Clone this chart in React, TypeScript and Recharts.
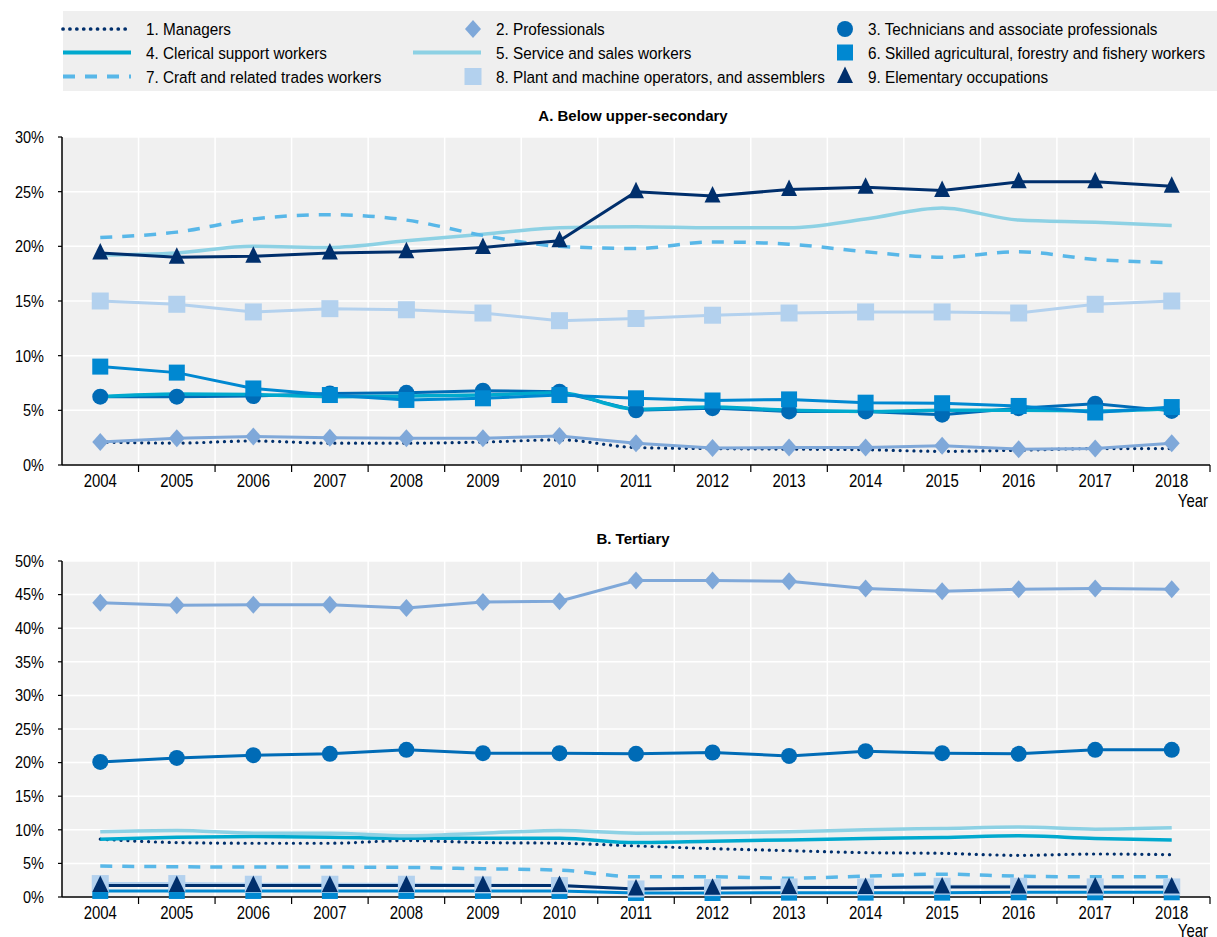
import React from 'react';
import { LineChart, Line, XAxis, YAxis, CartesianGrid } from 'recharts';

const YEARS = ['2004','2005','2006','2007','2008','2009','2010','2011','2012','2013','2014','2015','2016','2017','2018'];
const SERIES_NAMES = [
  '1. Managers',
  '2. Professionals',
  '3. Technicians and associate professionals',
  '4. Clerical support workers',
  '5. Service and sales workers',
  '6. Skilled agricultural, forestry and fishery workers',
  '7. Craft and related trades workers',
  '8. Plant and machine operators, and assemblers',
  '9. Elementary occupations',
];
const TICKS_A = [0, 5, 10, 15, 20, 25, 30];
const TICKS_B = [0, 5, 10, 15, 20, 25, 30, 35, 40, 45, 50];
const TITLE_A = 'A. Below upper-secondary';
const TITLE_B = 'B. Tertiary';
const X_LABEL = 'Year';

// Panel A: Below upper-secondary
const A_MANAGERS = [2.1, 2.0, 2.2, 2.0, 2.0, 2.1, 2.3, 1.6, 1.5, 1.45, 1.4, 1.25, 1.35, 1.5, 1.5];
const A_PROFESSIONALS = [2.1, 2.45, 2.6, 2.5, 2.45, 2.45, 2.65, 2.0, 1.55, 1.6, 1.6, 1.75, 1.45, 1.5, 2.0];
const A_TECHNICIANS = [6.25, 6.25, 6.3, 6.55, 6.6, 6.8, 6.7, 5.0, 5.2, 4.9, 4.9, 4.6, 5.2, 5.6, 4.95];
const A_CLERICAL = [6.25, 6.5, 6.45, 6.25, 6.3, 6.4, 6.6, 5.1, 5.3, 5.0, 4.9, 5.0, 5.0, 4.95, 5.15];
const A_SERVICE = [19.2, 19.4, 20.0, 19.9, 20.5, 21.1, 21.7, 21.8, 21.7, 21.7, 22.5, 23.5, 22.4, 22.2, 21.9];
const A_SKILLED = [9.0, 8.45, 7.0, 6.4, 5.95, 6.1, 6.4, 6.1, 5.9, 6.0, 5.7, 5.65, 5.4, 4.8, 5.3];
const A_CRAFT = [20.8, 21.3, 22.5, 22.9, 22.4, 21.0, 20.0, 19.8, 20.4, 20.2, 19.5, 19.0, 19.5, 18.8, 18.5];
const A_PLANT = [15.0, 14.7, 14.0, 14.3, 14.2, 13.9, 13.2, 13.4, 13.7, 13.9, 14.0, 14.0, 13.9, 14.7, 15.0];
const A_ELEMENTARY = [19.4, 19.0, 19.1, 19.4, 19.5, 19.9, 20.5, 25.0, 24.6, 25.2, 25.4, 25.1, 25.9, 25.9, 25.5];

// Panel B: Tertiary
const B_MANAGERS = [8.6, 8.1, 8.0, 8.0, 8.4, 8.1, 8.0, 7.6, 7.2, 6.9, 6.6, 6.5, 6.2, 6.4, 6.3];
const B_PROFESSIONALS = [43.8, 43.4, 43.5, 43.5, 43.0, 43.9, 44.0, 47.1, 47.1, 47.0, 45.9, 45.5, 45.8, 45.9, 45.8];
const B_TECHNICIANS = [20.1, 20.7, 21.1, 21.3, 21.9, 21.4, 21.4, 21.3, 21.5, 21.0, 21.7, 21.4, 21.3, 21.9, 21.9];
const B_CLERICAL = [8.6, 8.9, 9.0, 8.9, 8.75, 8.75, 8.75, 8.1, 8.3, 8.5, 8.7, 8.85, 9.1, 8.7, 8.5];
const B_SERVICE = [9.7, 9.9, 9.5, 9.5, 9.1, 9.5, 9.9, 9.5, 9.55, 9.7, 10.0, 10.2, 10.4, 10.1, 10.3];
const B_SKILLED = [0.9, 0.9, 0.9, 0.9, 0.9, 0.9, 0.9, 0.6, 0.6, 0.65, 0.65, 0.65, 0.7, 0.7, 0.7];
const B_CRAFT = [4.6, 4.5, 4.45, 4.45, 4.4, 4.2, 4.0, 3.0, 3.0, 2.8, 3.1, 3.4, 3.1, 3.0, 3.0];
const B_PLANT = [2.0, 2.0, 1.9, 1.9, 1.9, 1.8, 1.7, 1.2, 1.4, 1.5, 1.5, 1.6, 1.6, 1.5, 1.5];
const B_ELEMENTARY = [1.7, 1.7, 1.7, 1.7, 1.7, 1.7, 1.7, 1.2, 1.3, 1.4, 1.4, 1.5, 1.5, 1.5, 1.5];

const FONT = '"Liberation Sans", Arial, sans-serif';
const W = 1217;
const H = 937;
const LEFT = 62;
const RIGHT = 7;
const PLOT_W = W - LEFT - RIGHT;
const HALF = PLOT_W / YEARS.length / 2;

type Style = { color: string; width: number; dash?: string; cap?: string; marker?: string; smooth?: boolean };
const STYLES: Style[] = [
  { color: '#002F6C', width: 3.2, dash: '0.1 6.8', cap: 'round', smooth: true },
  { color: '#7FA8D9', width: 3, marker: 'diamond' },
  { color: '#006BB6', width: 3, marker: 'circle' },
  { color: '#00A9CE', width: 3.5, smooth: true },
  { color: '#8DD1E4', width: 3.5, smooth: true },
  { color: '#0088D1', width: 3, marker: 'square' },
  { color: '#58B7E8', width: 3.5, dash: '12 10', smooth: true },
  { color: '#B3D1EE', width: 3, marker: 'bigsquare' },
  { color: '#002F6C', width: 3, marker: 'triangle' },
];

// Narrow-looking text (condensed via horizontal scale), kept as real text
const SText = ({ x, y, size, sx, anchor, bold, children }: any) => (
  <text
    transform={`translate(${x},${y}) scale(${sx},1)`}
    fontSize={size}
    textAnchor={anchor || 'start'}
    fontWeight={bold ? 'bold' : 'normal'}
    fontFamily={FONT}
    fill="#000"
    dominantBaseline="central"
  >
    {children}
  </text>
);

const Marker = ({ kind, cx, cy, color }: { kind: string; cx: number; cy: number; color: string }) => {
  if (cx == null || cy == null || isNaN(cx) || isNaN(cy)) return null;
  if (kind === 'diamond') {
    return <polygon points={`${cx},${cy - 9} ${cx + 8},${cy} ${cx},${cy + 9} ${cx - 8},${cy}`} fill={color} />;
  }
  if (kind === 'circle') return <circle cx={cx} cy={cy} r={8} fill={color} />;
  if (kind === 'square') return <rect x={cx - 8} y={cy - 8} width={16} height={16} fill={color} />;
  if (kind === 'bigsquare') return <rect x={cx - 8.5} y={cy - 8.5} width={17} height={17} fill={color} />;
  if (kind === 'triangle') {
    return <polygon points={`${cx},${cy - 10} ${cx + 8},${cy + 6.5} ${cx - 8},${cy + 6.5}`} fill={color} />;
  }
  return null;
};

const buildData = (series: number[][]) =>
  YEARS.map((y, i) => {
    const row: Record<string, number> = { i };
    series.forEach((s, k) => {
      row[`s${k}`] = s[i];
    });
    return row;
  });

const DATA_A = buildData([A_MANAGERS, A_PROFESSIONALS, A_TECHNICIANS, A_CLERICAL, A_SERVICE, A_SKILLED, A_CRAFT, A_PLANT, A_ELEMENTARY]);
const DATA_B = buildData([B_MANAGERS, B_PROFESSIONALS, B_TECHNICIANS, B_CLERICAL, B_SERVICE, B_SKILLED, B_CRAFT, B_PLANT, B_ELEMENTARY]);

const XTick = (props: any) => {
  const { x, y, payload } = props;
  return (
    <g>
      <line x1={x + HALF} x2={x + HALF} y1={y} y2={y + 7} stroke="#000" strokeWidth={1.2} />
      <SText x={x} y={y + 16} size={18} sx={0.83} anchor="middle">
        {YEARS[payload.value]}
      </SText>
    </g>
  );
};

const YTick = (props: any) => {
  const { x, y, payload } = props;
  return (
    <SText x={x} y={y} size={16.5} sx={0.88} anchor="end">
      {`${payload.value}%`}
    </SText>
  );
};

const Panel = ({ data, ticks, max, height, top, bottom }: { data: any[]; ticks: number[]; max: number; height: number; top: number; bottom: number }) => (
  <LineChart width={W} height={height} data={data} margin={{ top, right: RIGHT, left: 10, bottom }}>
    <CartesianGrid
      fill="#F0F0F0"
      stroke="#FFFFFF"
      strokeWidth={1.5}
      verticalCoordinatesGenerator={({ offset }: any) =>
        YEARS.slice(1).map((_, k) => offset.left + ((k + 1) * offset.width) / YEARS.length)
      }
    />
    <XAxis
      dataKey="i"
      type="number"
      domain={[-0.5, YEARS.length - 0.5]}
      ticks={YEARS.map((_, k) => k)}
      interval={0}
      height={30}
      tickSize={0}
      tickMargin={0}
      tick={<XTick />}
      axisLine={{ stroke: '#000', strokeWidth: 1.5 }}
      tickLine={false}
    />
    <YAxis
      width={52}
      domain={[0, max]}
      ticks={ticks}
      interval={0}
      tick={<YTick />}
      tickSize={4}
      tickMargin={14}
      axisLine={{ stroke: '#000', strokeWidth: 1.5 }}
      tickLine={{ stroke: '#000', strokeWidth: 1.2 }}
    />
    {STYLES.map((s, k) => (
      <Line
        key={k}
        dataKey={`s${k}`}
        name={SERIES_NAMES[k]}
        type={s.smooth ? 'monotone' : 'linear'}
        stroke={s.color}
        strokeWidth={s.width}
        strokeDasharray={s.dash}
        strokeLinecap={(s.cap as any) || 'butt'}
        isAnimationActive={false}
        activeDot={false}
        dot={
          s.marker
            ? (p: any) => <Marker key={`d${k}-${p.index}`} kind={s.marker as string} cx={p.cx} cy={p.cy} color={s.color} />
            : false
        }
      />
    ))}
  </LineChart>
);

const LEG_LINE_START = [63, 413, 800];
const LEG_LINE_END = [131, 481, 860];
const LEG_MARK_X = [97, 473, 845];
const LEG_TEXT_X = [146, 496, 868];
const LEG_ROW_Y = [29, 52.5, 76.5];

const Overlay = () => (
  <svg width={W} height={H} style={{ position: 'absolute', left: 0, top: 0, pointerEvents: 'none' }}>
    <rect x={63} y={11} width={W - 63} height={80} fill="#EFEFEF" />
    {STYLES.map((s, k) => {
      const col = k % 3;
      const row = Math.floor(k / 3);
      const y = LEG_ROW_Y[row];
      return (
        <g key={k}>
          {s.marker ? (
            <Marker kind={s.marker} cx={LEG_MARK_X[col]} cy={y} color={s.color} />
          ) : (
            <line
              x1={LEG_LINE_START[col]}
              x2={LEG_LINE_END[col]}
              y1={y}
              y2={y}
              stroke={s.color}
              strokeWidth={s.width + 0.5}
              strokeDasharray={s.dash}
              strokeLinecap={(s.cap as any) || 'butt'}
            />
          )}
          <SText x={LEG_TEXT_X[col]} y={y} size={17} sx={0.9}>
            {SERIES_NAMES[k]}
          </SText>
        </g>
      );
    })}
    <SText x={LEFT + PLOT_W / 2 - 3} y={115} size={15.5} sx={0.97} anchor="middle" bold>
      {TITLE_A}
    </SText>
    <SText x={LEFT + PLOT_W / 2 - 3} y={538} size={15.5} sx={0.97} anchor="middle" bold>
      {TITLE_B}
    </SText>
    <SText x={1208} y={501} size={18} sx={0.83} anchor="end">
      {X_LABEL}
    </SText>
    <SText x={1208} y={931} size={18} sx={0.83} anchor="end">
      {X_LABEL}
    </SText>
  </svg>
);

export default function App() {
  return (
    <div style={{ position: 'absolute', left: 0, top: 0, width: W, height: H, background: '#fff', overflow: 'hidden' }}>
      <div style={{ position: 'absolute', left: 0, top: 0 }}>
        <Panel data={DATA_A} ticks={TICKS_A} max={30} height={520} top={137} bottom={25} />
      </div>
      <div style={{ position: 'absolute', left: 0, top: 520 }}>
        <Panel data={DATA_B} ticks={TICKS_B} max={50} height={417} top={41} bottom={10} />
      </div>
      <Overlay />
    </div>
  );
}
